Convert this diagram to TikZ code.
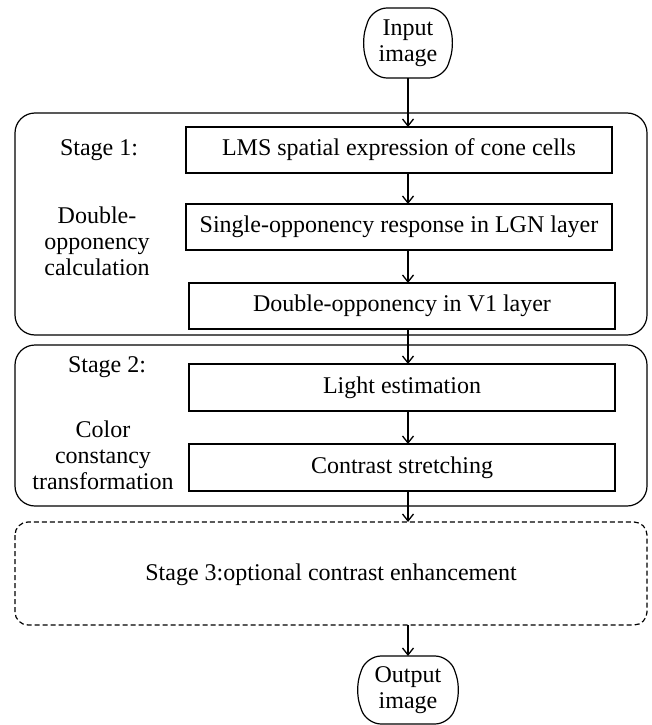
\documentclass[tikz,border=0pt]{standalone}
\usepackage{fontspec}
\setmainfont{Liberation Serif}
\usetikzlibrary{arrows.meta}
\begin{document}
\begin{tikzpicture}[x=1pt,y=-1pt,
  font=\fontsize{24}{26}\selectfont,
  every node/.style={inner sep=0pt, outer sep=0pt},
  procbox/.style={draw, line width=1.2pt, minimum width=426pt, minimum height=46pt},
  term/.style={align=center, font=\fontsize{24}{26}\selectfont},
  termline/.style={draw, line width=1.2pt, rounded corners=15pt},
  container/.style={draw, line width=1.2pt, rounded corners=20pt},
  flow/.style={line width=1.3pt, -{Straight Barb[length=7pt,width=11pt,line width=1.3pt]}},
  lbl/.style={align=center}]
\useasboundingbox (0,0) rectangle (652,725);
% containers
\draw[container] (15,113) rectangle (647,335);
\draw[container] (15,345) rectangle (647,506);
\draw[line width=1.2pt, dash pattern=on 5pt off 3pt, rounded corners=13pt] (15,522) rectangle (647,625);
\coordinate (s3top) at (408,522);
\coordinate (s3bot) at (408,625);
% terminals
\node[term, minimum width=94pt, minimum height=70pt] (in) at (408,43) {Input\\image};
\node[term, minimum width=106pt, minimum height=68pt] (out) at (408,690) {Output\\image};
\foreach \t in {in,out}{
  \draw[termline] ([xshift=11pt]\t.north west) -- ([xshift=-11pt]\t.north east) -- (\t.east)
    -- ([xshift=-11pt]\t.south east) -- ([xshift=11pt]\t.south west) -- (\t.west) -- cycle;
}
% process boxes
\node[procbox] (lms) at (399,150) {LMS spatial expression of cone cells};
\node[procbox] (sop) at (399,227) {Single-opponency response in LGN layer};
\node[procbox] (dop) at (402,306) {Double-opponency in V1 layer};
\node[procbox, minimum height=47pt] (light) at (402,387.5) {Light estimation};
\node[procbox, minimum height=47pt] (cst) at (402,467.5) {Contrast stretching};
% labels
\node (st1) at (99,150) {Stage 1:};
\node[lbl] (st1d) at (97,241) {Double-\\opponency\\calculation};
\node (st2) at (107,367) {Stage 2:};
\node[lbl] (st2d) at (103,455) {Color\\constancy\\transformation};
\node (st3) at (331,575) {Stage 3:optional contrast enhancement};
% arrows
\coordinate (ax) at (408,0);
\draw[flow] (in.south -| ax) -- (lms.north -| ax);
\draw[flow] (lms.south -| ax) -- (sop.north -| ax);
\draw[flow] (sop.south -| ax) -- (dop.north -| ax);
\draw[flow] (dop.south -| ax) -- (light.north -| ax);
\draw[flow] (light.south -| ax) -- (cst.north -| ax);
\draw[flow] (cst.south -| ax) -- (s3top);
\draw[flow] (s3bot) -- (out.north -| ax);
\end{tikzpicture}
\end{document}
